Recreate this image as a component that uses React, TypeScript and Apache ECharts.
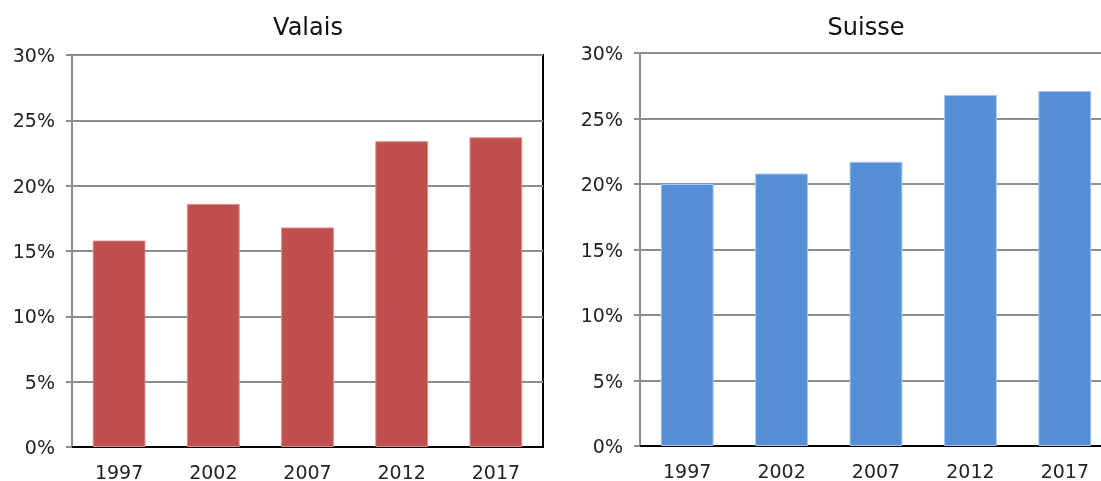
import React, { useEffect, useRef } from "react";
import * as echarts from "echarts";

const years = ["1997", "2002", "2007", "2012", "2017"];
const valais = [15.8, 18.6, 16.8, 23.4, 23.7];
const suisse = [20.0, 20.8, 21.7, 26.8, 27.1];
const titles = ["Valais", "Suisse"];

export default function App() {
  const ref = useRef<HTMLDivElement>(null);
  useEffect(() => {
    const chart = echarts.init(ref.current!, undefined, { renderer: "svg" });
    const font = "'DejaVu Sans', Verdana, sans-serif";
    const yAxisCommon = {
      type: "value",
      min: 0,
      max: 30,
      interval: 5,
      axisLabel: { formatter: "{value}%", fontFamily: font, fontSize: 19, color: "#222", margin: 17 },
      axisLine: { show: true, lineStyle: { color: "#8c8c8c", width: 2 } },
      axisTick: { show: true, length: 6, lineStyle: { color: "#8c8c8c", width: 2 } },
      splitLine: { show: true, lineStyle: { color: "#8c8c8c", width: 2 } },
    };
    const xAxisCommon = {
      type: "category",
      data: years,
      axisLabel: { fontFamily: font, fontSize: 19, color: "#222", margin: 15 },
      axisLine: { show: true, lineStyle: { color: "#000", width: 2 } },
      axisTick: { show: false },
    };
    chart.setOption({
      animation: false,
      title: [
        { text: titles[0], left: 303, top: 10, textAlign: "center", textStyle: { fontFamily: font, fontSize: 24, fontWeight: "normal", color: "#111" } },
        { text: titles[1], left: 861, top: 10, textAlign: "center", textStyle: { fontFamily: font, fontSize: 24, fontWeight: "normal", color: "#111" } },
      ],
      grid: [
        { left: 72, top: 55, width: 471, height: 392, show: true, borderColor: "#000", borderWidth: 2, outerBoundsMode: "none", containLabel: false },
        { left: 640, top: 53, width: 472, height: 393, show: true, borderColor: "#000", borderWidth: 2, outerBoundsMode: "none", containLabel: false },
      ],
      xAxis: [
        { ...xAxisCommon, gridIndex: 0 },
        { ...xAxisCommon, gridIndex: 1 },
      ],
      yAxis: [
        { ...yAxisCommon, gridIndex: 0 },
        { ...yAxisCommon, gridIndex: 1 },
      ],
      series: [
        {
          type: "bar",
          name: titles[0],
          xAxisIndex: 0,
          yAxisIndex: 0,
          data: valais,
          barWidth: "56%",
          itemStyle: { color: "#C0504D", borderColor: "#d68e8b", borderWidth: 1 },
        },
        {
          type: "bar",
          name: titles[1],
          xAxisIndex: 1,
          yAxisIndex: 1,
          data: suisse,
          barWidth: "56%",
          itemStyle: { color: "#558ED5", borderColor: "#a8c6ee", borderWidth: 1 },
        },
      ],
    });
    return () => chart.dispose();
  }, []);
  return <div ref={ref} style={{ position: "fixed", left: 0, top: 0, width: 1101, height: 481 }} />;
}
